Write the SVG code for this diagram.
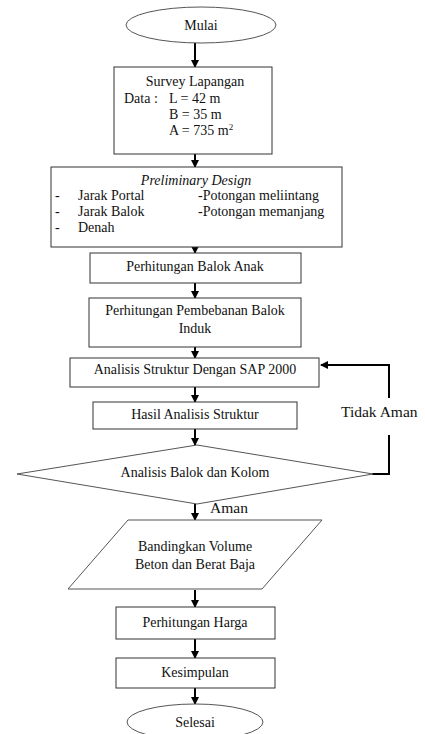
<svg xmlns="http://www.w3.org/2000/svg" width="425" height="734" viewBox="0 0 425 734">
<defs>
<marker id="ah" markerWidth="8" markerHeight="8" refX="7" refY="4" orient="auto" markerUnits="userSpaceOnUse">
<path d="M0,0 L8,4 L0,8 Z" fill="#000"/>
</marker>
<style>
.box{fill:#fff;stroke:#333;stroke-width:1}
.thin{fill:#fff;stroke:#555;stroke-width:1}
.t{font-family:"Liberation Serif","Times New Roman",serif;font-size:14px;fill:#111}
.c{text-anchor:middle}
.big{font-size:15.5px}
.con{stroke:#000;stroke-width:2;fill:none}
.ar{stroke:#000;stroke-width:2;fill:none;marker-end:url(#ah)}
</style>
</defs>
<rect width="425" height="734" fill="#fff"/>
<g id="connectors">
<line class="ar" x1="195" y1="43" x2="195" y2="67"/>
<line class="ar" x1="195" y1="154" x2="195" y2="167"/>
<line class="ar" x1="195" y1="237" x2="195" y2="253"/>
<line class="ar" x1="195" y1="283" x2="195" y2="298"/>
<line class="ar" x1="195" y1="347" x2="195" y2="358"/>
<line class="ar" x1="195" y1="387" x2="195" y2="402"/>
<line class="ar" x1="195" y1="429" x2="195" y2="445"/>
<line class="ar" x1="195" y1="504" x2="195" y2="520"/>
<line class="ar" x1="195" y1="590" x2="195" y2="607"/>
<line class="ar" x1="195" y1="639" x2="195" y2="658"/>
<line class="ar" x1="195" y1="688" x2="195" y2="704"/>
<polyline class="con" points="372,474 389,474 389,435"/>
<polyline class="ar" points="389,398 389,365 321,365"/>
</g>
<g id="mulai">
<ellipse class="thin" cx="201" cy="25" rx="75" ry="18"/>
<text class="t c" x="201" y="30">Mulai</text>
</g>
<g id="survey">
<rect class="box" x="114" y="67" width="158" height="87"/>
<text class="t c" x="195" y="86">Survey Lapangan</text>
<text class="t" x="124" y="103">Data :</text>
<text class="t" x="169" y="103">L = 42 m</text>
<text class="t" x="169" y="119">B = 35 m</text>
<text class="t" x="169" y="135">A = 735 m<tspan font-size="9" dy="-5">2</tspan></text>
</g>
<g id="preliminary">
<rect class="box" x="51" y="167" width="291" height="80"/>
<text class="t c" x="196" y="185" font-style="italic">Preliminary Design</text>
<text class="t" x="55" y="200">-</text>
<text class="t" x="78" y="200">Jarak Portal</text>
<text class="t" x="55" y="216">-</text>
<text class="t" x="78" y="216">Jarak Balok</text>
<text class="t" x="55" y="232">-</text>
<text class="t" x="78" y="232">Denah</text>
<text class="t" x="198" y="200">-Potongan meliintang</text>
<text class="t" x="198" y="216">-Potongan memanjang</text>
</g>
<g id="balok-anak">
<rect class="box" x="90" y="253" width="211" height="30"/>
<text class="t c" x="195" y="271">Perhitungan Balok Anak</text>
</g>
<g id="pembebanan">
<rect class="box" x="89" y="298" width="212" height="49"/>
<text class="t c" x="195" y="315">Perhitungan Pembebanan Balok</text>
<text class="t c" x="195" y="333">Induk</text>
</g>
<g id="sap">
<rect class="box" x="70" y="358" width="249" height="29"/>
<text class="t c" x="195" y="374">Analisis Struktur Dengan SAP 2000</text>
</g>
<g id="hasil">
<rect class="box" x="93" y="402" width="204" height="27"/>
<text class="t c" x="195" y="419">Hasil Analisis Struktur</text>
</g>
<g id="decision">
<polygon class="thin" points="197,445 373,474 197,504 17,474"/>
<text class="t c" x="195" y="477">Analisis Balok dan Kolom</text>
</g>
<g id="labels">
<text class="t big" x="341" y="417">Tidak Aman</text>
<text class="t big" x="210" y="513">Aman</text>
</g>
<g id="bandingkan">
<polygon class="thin" points="128,520 322,520 262,589 68,589"/>
<text class="t c" x="195" y="551">Bandingkan Volume</text>
<text class="t c" x="195" y="569">Beton dan Berat Baja</text>
</g>
<g id="harga">
<rect class="box" x="116" y="607" width="159" height="32"/>
<text class="t c" x="195" y="627">Perhitungan Harga</text>
</g>
<g id="kesimpulan">
<rect class="box" x="116" y="658" width="159" height="30"/>
<text class="t c" x="195" y="677">Kesimpulan</text>
</g>
<g id="selesai">
<ellipse class="thin" cx="195" cy="722" rx="68" ry="18"/>
<text class="t c" x="195" y="727">Selesai</text>
</g>
</svg>
